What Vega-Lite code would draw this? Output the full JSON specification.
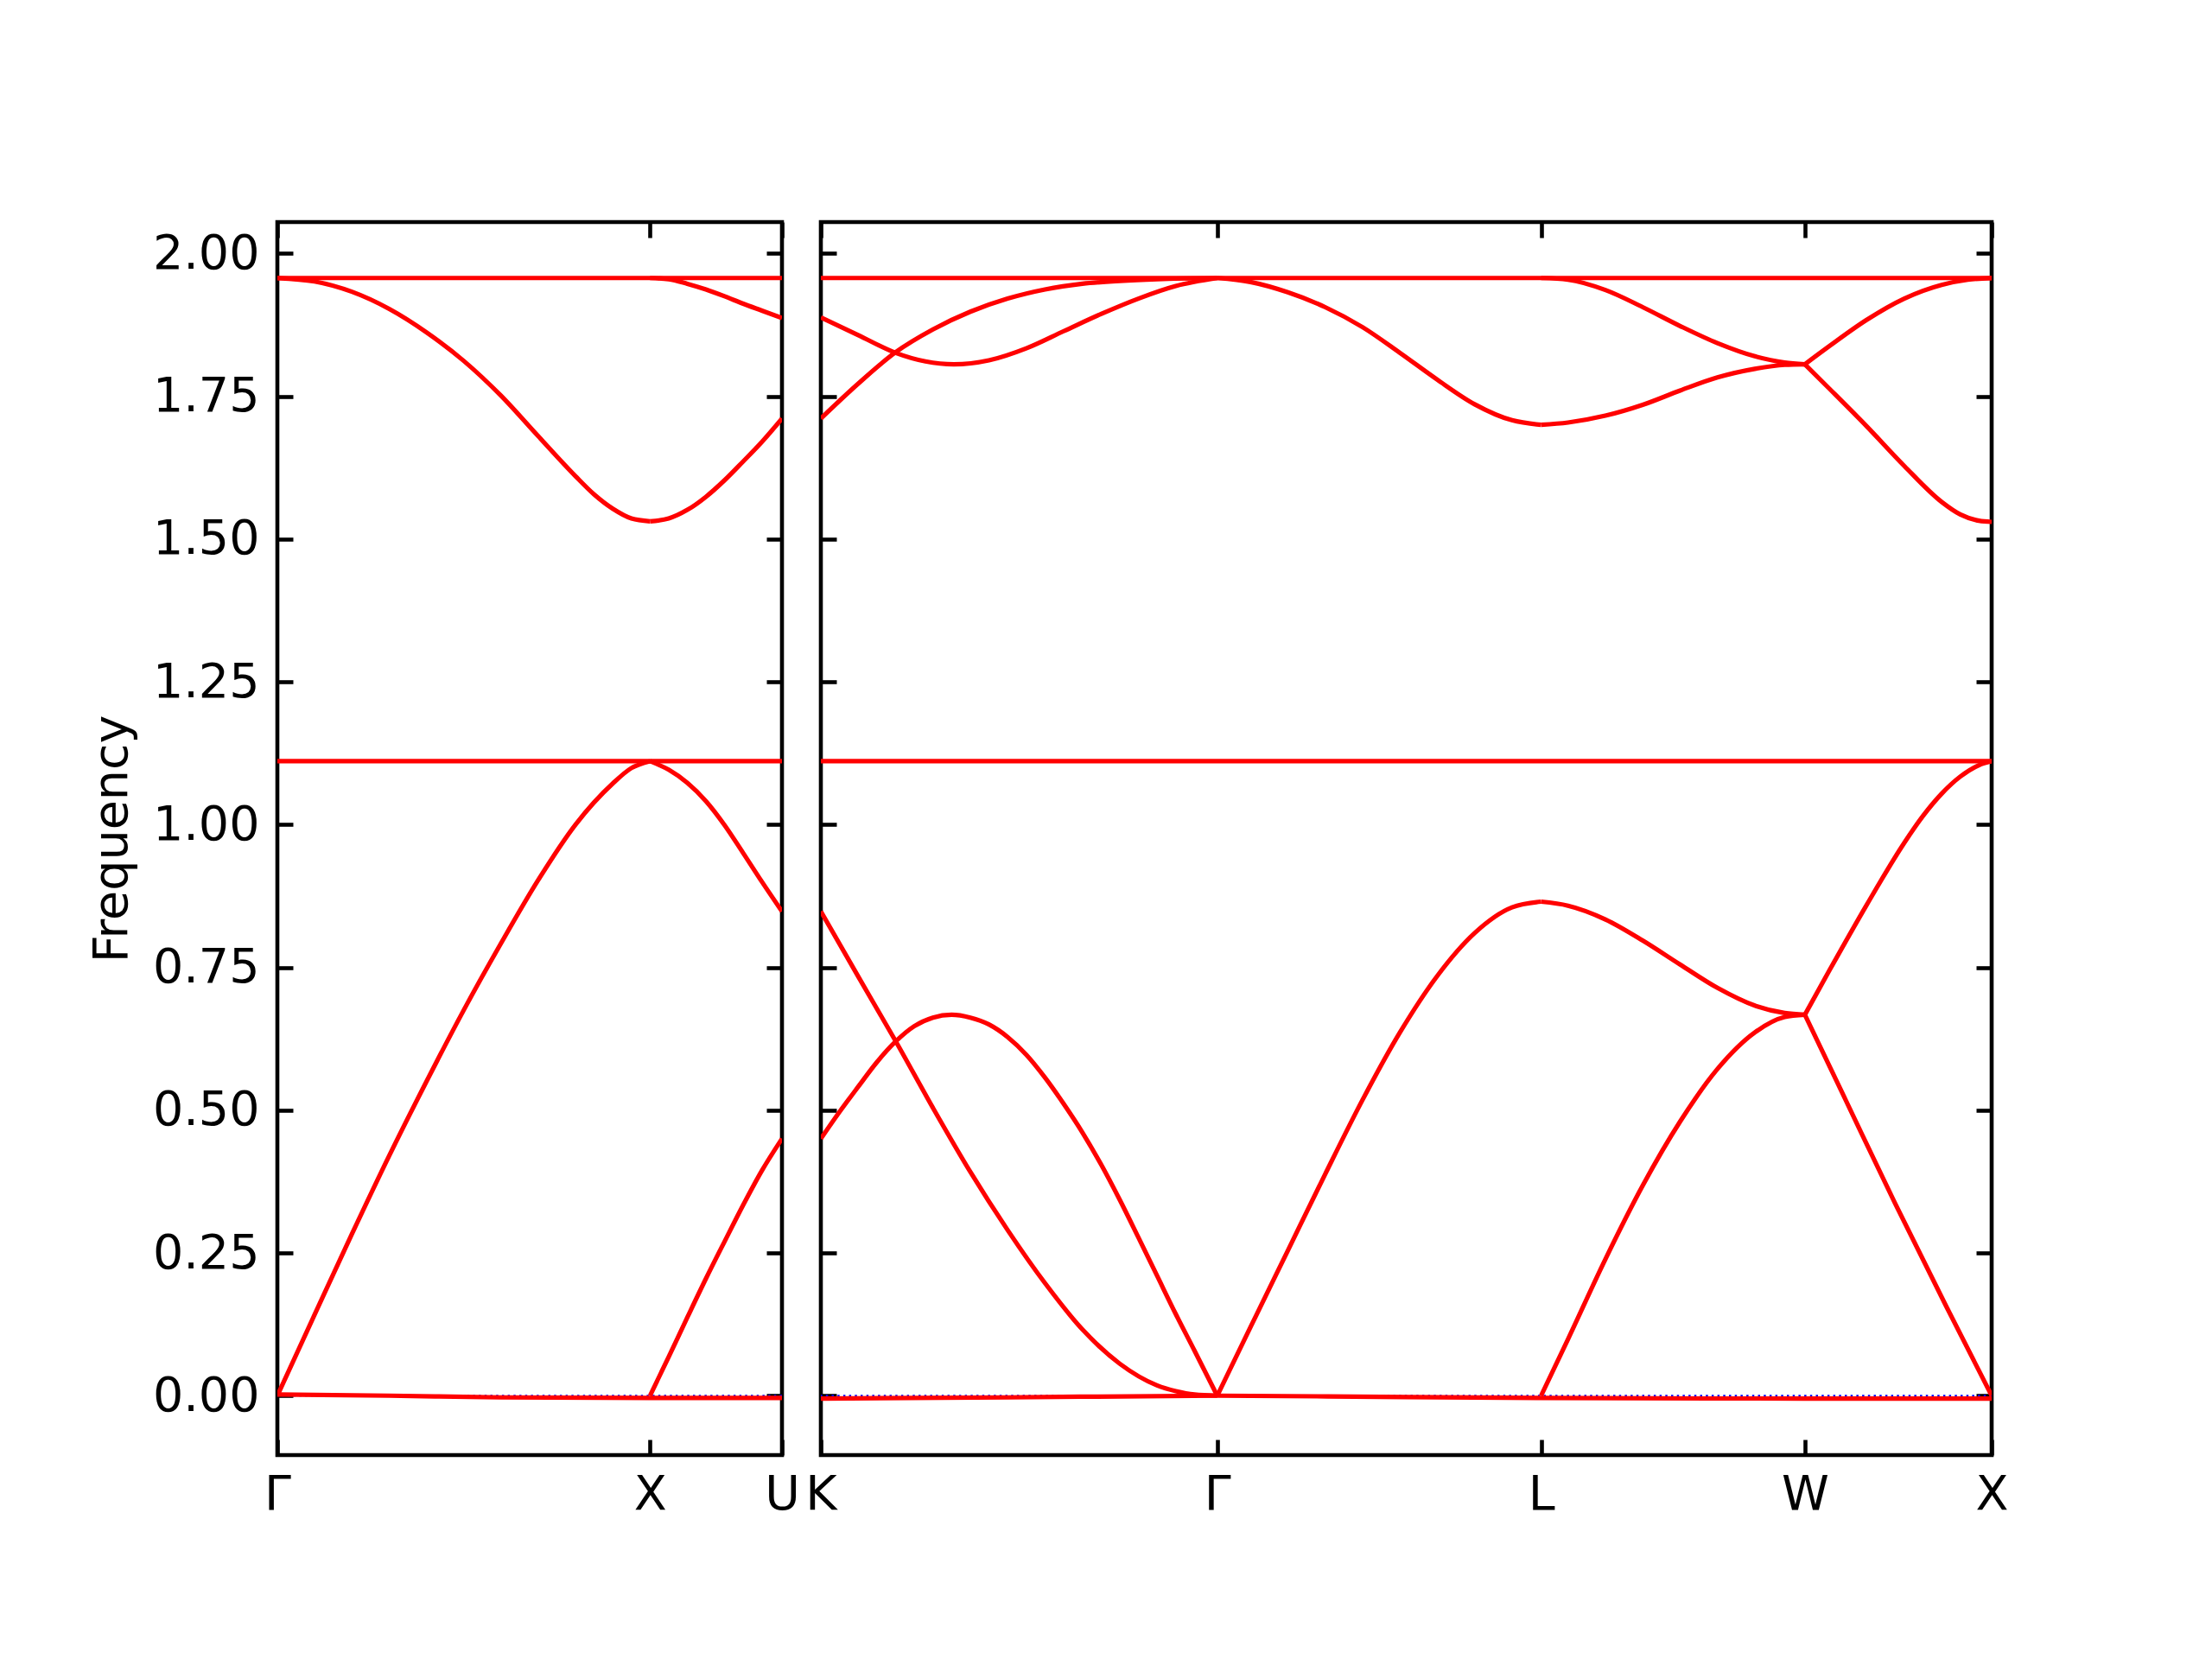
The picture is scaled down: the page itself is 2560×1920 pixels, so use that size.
{
  "$schema": "https://vega.github.io/schema/vega-lite/v6.json",
  "background": "white",
  "padding": {"left": 100, "top": 252, "right": 20, "bottom": 20},
  "bounds": "flush",
  "spacing": 45,
  "config": {
    "view": {"stroke": "black", "strokeWidth": 4.6},
    "font": "DejaVu Sans",
    "axis": {"labelFont": "DejaVu Sans", "titleFont": "DejaVu Sans", "labelColor": "black", "titleColor": "black"}
  },
  "datasets": {
    "zero": [{"f": 0}],
    "left": [
      {"s": "z", "k": 0, "f": 0.002}, {"s": "z", "k": 0.3, "f": 0.0}, {"s": "z", "k": 0.6, "f": -0.003}, {"s": "z", "k": 1.0, "f": -0.004}, {"s": "z", "k": 1.354, "f": -0.004},
      {"s": "a_GX", "k": 0, "f": 0}, {"s": "a_GX", "k": 0.1, "f": 0.142}, {"s": "a_GX", "k": 0.2, "f": 0.283}, {"s": "a_GX", "k": 0.3, "f": 0.42}, {"s": "a_GX", "k": 0.4, "f": 0.55}, {"s": "a_GX", "k": 0.5, "f": 0.675}, {"s": "a_GX", "k": 0.6, "f": 0.792}, {"s": "a_GX", "k": 0.7, "f": 0.903}, {"s": "a_GX", "k": 0.8, "f": 1.0}, {"s": "a_GX", "k": 0.9, "f": 1.072}, {"s": "a_GX", "k": 0.95, "f": 1.099}, {"s": "a_GX", "k": 1.0, "f": 1.111},
      {"s": "a_XU", "k": 1.0, "f": 1.111}, {"s": "a_XU", "k": 1.05, "f": 1.096}, {"s": "a_XU", "k": 1.1, "f": 1.073}, {"s": "a_XU", "k": 1.15, "f": 1.041}, {"s": "a_XU", "k": 1.2, "f": 0.999}, {"s": "a_XU", "k": 1.25, "f": 0.95}, {"s": "a_XU", "k": 1.3, "f": 0.9}, {"s": "a_XU", "k": 1.354, "f": 0.848},
      {"s": "b_XU", "k": 1.0, "f": 0.0}, {"s": "b_XU", "k": 1.05, "f": 0.068}, {"s": "b_XU", "k": 1.1, "f": 0.137}, {"s": "b_XU", "k": 1.15, "f": 0.205}, {"s": "b_XU", "k": 1.2, "f": 0.27}, {"s": "b_XU", "k": 1.25, "f": 0.334}, {"s": "b_XU", "k": 1.3, "f": 0.394}, {"s": "b_XU", "k": 1.354, "f": 0.45},
      {"s": "flat1", "k": 0, "f": 1.111}, {"s": "flat1", "k": 1.354, "f": 1.111},
      {"s": "c_GX", "k": 0, "f": 1.957}, {"s": "c_GX", "k": 0.1, "f": 1.951}, {"s": "c_GX", "k": 0.2, "f": 1.933}, {"s": "c_GX", "k": 0.3, "f": 1.903}, {"s": "c_GX", "k": 0.4, "f": 1.862}, {"s": "c_GX", "k": 0.5, "f": 1.812}, {"s": "c_GX", "k": 0.6, "f": 1.751}, {"s": "c_GX", "k": 0.7, "f": 1.68}, {"s": "c_GX", "k": 0.8, "f": 1.61}, {"s": "c_GX", "k": 0.85, "f": 1.578}, {"s": "c_GX", "k": 0.9, "f": 1.553}, {"s": "c_GX", "k": 0.95, "f": 1.536}, {"s": "c_GX", "k": 1.0, "f": 1.531},
      {"s": "c_XU", "k": 1.0, "f": 1.531}, {"s": "c_XU", "k": 1.05, "f": 1.536}, {"s": "c_XU", "k": 1.1, "f": 1.551}, {"s": "c_XU", "k": 1.15, "f": 1.574}, {"s": "c_XU", "k": 1.2, "f": 1.603}, {"s": "c_XU", "k": 1.25, "f": 1.636}, {"s": "c_XU", "k": 1.3, "f": 1.67}, {"s": "c_XU", "k": 1.354, "f": 1.711},
      {"s": "d_XU", "k": 1.0, "f": 1.957}, {"s": "d_XU", "k": 1.05, "f": 1.955}, {"s": "d_XU", "k": 1.1, "f": 1.947}, {"s": "d_XU", "k": 1.15, "f": 1.937}, {"s": "d_XU", "k": 1.2, "f": 1.925}, {"s": "d_XU", "k": 1.25, "f": 1.912}, {"s": "d_XU", "k": 1.3, "f": 1.9}, {"s": "d_XU", "k": 1.354, "f": 1.887},
      {"s": "flat2", "k": 0, "f": 1.957}, {"s": "flat2", "k": 1.354, "f": 1.957}
    ],
    "right": [
      {"s": "z", "k": 0, "f": -0.005}, {"s": "z", "k": 0.5, "f": -0.003}, {"s": "z", "k": 1.061, "f": 0.0}, {"s": "z", "k": 1.5, "f": -0.002}, {"s": "z", "k": 1.928, "f": -0.004}, {"s": "z", "k": 2.634, "f": -0.005}, {"s": "z", "k": 3.134, "f": -0.005},
      {"s": "r1_KG", "k": 0, "f": 0.848}, {"s": "r1_KG", "k": 0.1, "f": 0.734}, {"s": "r1_KG", "k": 0.2, "f": 0.621}, {"s": "r1_KG", "k": 0.3, "f": 0.504}, {"s": "r1_KG", "k": 0.4, "f": 0.392}, {"s": "r1_KG", "k": 0.5, "f": 0.29}, {"s": "r1_KG", "k": 0.6, "f": 0.197}, {"s": "r1_KG", "k": 0.7, "f": 0.116}, {"s": "r1_KG", "k": 0.8, "f": 0.056}, {"s": "r1_KG", "k": 0.9, "f": 0.018}, {"s": "r1_KG", "k": 0.95, "f": 0.008}, {"s": "r1_KG", "k": 1.0, "f": 0.002}, {"s": "r1_KG", "k": 1.061, "f": 0.0},
      {"s": "r2_KG", "k": 0, "f": 0.45}, {"s": "r2_KG", "k": 0.05, "f": 0.497}, {"s": "r2_KG", "k": 0.1, "f": 0.541}, {"s": "r2_KG", "k": 0.15, "f": 0.584}, {"s": "r2_KG", "k": 0.2, "f": 0.62}, {"s": "r2_KG", "k": 0.25, "f": 0.647}, {"s": "r2_KG", "k": 0.3, "f": 0.662}, {"s": "r2_KG", "k": 0.35, "f": 0.667}, {"s": "r2_KG", "k": 0.4, "f": 0.662}, {"s": "r2_KG", "k": 0.45, "f": 0.65}, {"s": "r2_KG", "k": 0.5, "f": 0.628}, {"s": "r2_KG", "k": 0.55, "f": 0.597}, {"s": "r2_KG", "k": 0.6, "f": 0.557}, {"s": "r2_KG", "k": 0.65, "f": 0.511}, {"s": "r2_KG", "k": 0.7, "f": 0.461}, {"s": "r2_KG", "k": 0.75, "f": 0.405}, {"s": "r2_KG", "k": 0.8, "f": 0.343}, {"s": "r2_KG", "k": 0.85, "f": 0.277}, {"s": "r2_KG", "k": 0.9, "f": 0.21}, {"s": "r2_KG", "k": 0.95, "f": 0.143}, {"s": "r2_KG", "k": 1.0, "f": 0.079}, {"s": "r2_KG", "k": 1.061, "f": 0.0},
      {"s": "g_GL", "k": 1.061, "f": 0.0}, {"s": "g_GL", "k": 1.15, "f": 0.12}, {"s": "g_GL", "k": 1.25, "f": 0.254}, {"s": "g_GL", "k": 1.35, "f": 0.388}, {"s": "g_GL", "k": 1.45, "f": 0.518}, {"s": "g_GL", "k": 1.55, "f": 0.636}, {"s": "g_GL", "k": 1.65, "f": 0.735}, {"s": "g_GL", "k": 1.75, "f": 0.81}, {"s": "g_GL", "k": 1.85, "f": 0.855}, {"s": "g_GL", "k": 1.928, "f": 0.865},
      {"s": "g_LW", "k": 1.928, "f": 0.865}, {"s": "g_LW", "k": 2.0, "f": 0.858}, {"s": "g_LW", "k": 2.1, "f": 0.834}, {"s": "g_LW", "k": 2.2, "f": 0.797}, {"s": "g_LW", "k": 2.3, "f": 0.755}, {"s": "g_LW", "k": 2.4, "f": 0.714}, {"s": "g_LW", "k": 2.5, "f": 0.683}, {"s": "g_LW", "k": 2.58, "f": 0.67}, {"s": "g_LW", "k": 2.634, "f": 0.667},
      {"s": "g_WX", "k": 2.634, "f": 0.667}, {"s": "g_WX", "k": 2.7, "f": 0.745}, {"s": "g_WX", "k": 2.8, "f": 0.86}, {"s": "g_WX", "k": 2.9, "f": 0.968}, {"s": "g_WX", "k": 2.95, "f": 1.015}, {"s": "g_WX", "k": 3.0, "f": 1.054}, {"s": "g_WX", "k": 3.05, "f": 1.084}, {"s": "g_WX", "k": 3.1, "f": 1.104}, {"s": "g_WX", "k": 3.134, "f": 1.111},
      {"s": "h_LW", "k": 1.928, "f": 0.0}, {"s": "h_LW", "k": 2.0, "f": 0.099}, {"s": "h_LW", "k": 2.1, "f": 0.239}, {"s": "h_LW", "k": 2.2, "f": 0.368}, {"s": "h_LW", "k": 2.3, "f": 0.48}, {"s": "h_LW", "k": 2.4, "f": 0.572}, {"s": "h_LW", "k": 2.5, "f": 0.636}, {"s": "h_LW", "k": 2.58, "f": 0.663}, {"s": "h_LW", "k": 2.634, "f": 0.667},
      {"s": "h_WX", "k": 2.634, "f": 0.667}, {"s": "h_WX", "k": 2.74, "f": 0.522}, {"s": "h_WX", "k": 2.876, "f": 0.336}, {"s": "h_WX", "k": 3.012, "f": 0.157}, {"s": "h_WX", "k": 3.134, "f": 0.0},
      {"s": "flat1", "k": 0, "f": 1.111}, {"s": "flat1", "k": 3.134, "f": 1.111},
      {"s": "u1_KG", "k": 0, "f": 1.888}, {"s": "u1_KG", "k": 0.1, "f": 1.857}, {"s": "u1_KG", "k": 0.2, "f": 1.826}, {"s": "u1_KG", "k": 0.28, "f": 1.811}, {"s": "u1_KG", "k": 0.356, "f": 1.806}, {"s": "u1_KG", "k": 0.45, "f": 1.813}, {"s": "u1_KG", "k": 0.55, "f": 1.834}, {"s": "u1_KG", "k": 0.65, "f": 1.864}, {"s": "u1_KG", "k": 0.75, "f": 1.894}, {"s": "u1_KG", "k": 0.85, "f": 1.921}, {"s": "u1_KG", "k": 0.95, "f": 1.943}, {"s": "u1_KG", "k": 1.061, "f": 1.957},
      {"s": "u2_KG", "k": 0, "f": 1.711}, {"s": "u2_KG", "k": 0.1, "f": 1.772}, {"s": "u2_KG", "k": 0.2, "f": 1.827}, {"s": "u2_KG", "k": 0.3, "f": 1.867}, {"s": "u2_KG", "k": 0.4, "f": 1.898}, {"s": "u2_KG", "k": 0.5, "f": 1.921}, {"s": "u2_KG", "k": 0.6, "f": 1.937}, {"s": "u2_KG", "k": 0.7, "f": 1.947}, {"s": "u2_KG", "k": 0.8, "f": 1.952}, {"s": "u2_KG", "k": 0.9, "f": 1.955}, {"s": "u2_KG", "k": 1.061, "f": 1.957},
      {"s": "v_GL", "k": 1.061, "f": 1.957}, {"s": "v_GL", "k": 1.15, "f": 1.95}, {"s": "v_GL", "k": 1.25, "f": 1.932}, {"s": "v_GL", "k": 1.35, "f": 1.906}, {"s": "v_GL", "k": 1.45, "f": 1.871}, {"s": "v_GL", "k": 1.55, "f": 1.826}, {"s": "v_GL", "k": 1.65, "f": 1.779}, {"s": "v_GL", "k": 1.75, "f": 1.736}, {"s": "v_GL", "k": 1.85, "f": 1.708}, {"s": "v_GL", "k": 1.928, "f": 1.7},
      {"s": "v_LW", "k": 1.928, "f": 1.7}, {"s": "v_LW", "k": 2.0, "f": 1.704}, {"s": "v_LW", "k": 2.1, "f": 1.716}, {"s": "v_LW", "k": 2.2, "f": 1.735}, {"s": "v_LW", "k": 2.3, "f": 1.76}, {"s": "v_LW", "k": 2.4, "f": 1.783}, {"s": "v_LW", "k": 2.5, "f": 1.798}, {"s": "v_LW", "k": 2.58, "f": 1.805}, {"s": "v_LW", "k": 2.634, "f": 1.806},
      {"s": "w_LW", "k": 1.928, "f": 1.957}, {"s": "w_LW", "k": 2.0, "f": 1.954}, {"s": "w_LW", "k": 2.1, "f": 1.936}, {"s": "w_LW", "k": 2.2, "f": 1.906}, {"s": "w_LW", "k": 2.3, "f": 1.873}, {"s": "w_LW", "k": 2.4, "f": 1.843}, {"s": "w_LW", "k": 2.5, "f": 1.82}, {"s": "w_LW", "k": 2.58, "f": 1.809}, {"s": "w_LW", "k": 2.634, "f": 1.806},
      {"s": "w_WX", "k": 2.634, "f": 1.806}, {"s": "w_WX", "k": 2.7, "f": 1.838}, {"s": "w_WX", "k": 2.8, "f": 1.884}, {"s": "w_WX", "k": 2.9, "f": 1.921}, {"s": "w_WX", "k": 3.0, "f": 1.945}, {"s": "w_WX", "k": 3.07, "f": 1.954}, {"s": "w_WX", "k": 3.134, "f": 1.957},
      {"s": "v_WX", "k": 2.634, "f": 1.806}, {"s": "v_WX", "k": 2.7, "f": 1.763}, {"s": "v_WX", "k": 2.8, "f": 1.697}, {"s": "v_WX", "k": 2.9, "f": 1.628}, {"s": "v_WX", "k": 3.0, "f": 1.565}, {"s": "v_WX", "k": 3.05, "f": 1.543}, {"s": "v_WX", "k": 3.1, "f": 1.532}, {"s": "v_WX", "k": 3.134, "f": 1.53},
      {"s": "flat2", "k": 0, "f": 1.957}, {"s": "flat2", "k": 3.134, "f": 1.957}
    ]
  },
  "hconcat": [
    {
      "width": 584,
      "height": 1427,
      "layer": [
        {
          "data": {"name": "zero"},
          "mark": {"type": "rule", "color": "#0000ff", "strokeWidth": 2.2, "strokeDash": [2.5, 4.2]},
          "encoding": {"y": {"field": "f", "type": "quantitative", "scale": {"domain": [-0.104, 2.055], "nice": false, "zero": false}, "axis": null}}
        },
        {
          "data": {"name": "left"},
          "mark": {"type": "line", "color": "#ff0000", "strokeWidth": 5.2, "interpolate": "monotone", "clip": true},
          "encoding": {
            "x": {"field": "k", "type": "quantitative", "scale": {"domain": [0, 1.354], "nice": false, "zero": false},
              "axis": {"orient": "bottom", "values": [0, 1, 1.354], "labelExpr": "datum.value < 0.5 ? 'Γ' : (datum.value < 1.2 ? 'X' : 'U')", "ticks": false, "domain": false, "grid": false, "title": null, "labelFontSize": 55.5, "labelPadding": 18, "labelFlush": false, "labelOverlap": false, "labelBound": false}},
            "y": {"field": "f", "type": "quantitative", "scale": {"domain": [-0.104, 2.055], "nice": false, "zero": false},
              "axis": {"orient": "left", "values": [0, 0.25, 0.5, 0.75, 1, 1.25, 1.5, 1.75, 2], "format": ".2f", "ticks": false, "domain": false, "grid": false, "title": "Frequency", "titleFontSize": 55.5, "titleFontWeight": "normal", "titlePadding": 18, "labelFontSize": 55.5, "labelPadding": 21, "labelOverlap": false, "labelFlush": false, "labelBound": false}},
            "detail": {"field": "s", "type": "nominal"}
          }
        },
        {
          "data": {"name": "zero"},
          "mark": {"type": "point", "opacity": 0},
          "encoding": {
            "x": {"datum": 0, "type": "quantitative", "scale": {"domain": [0, 1.354], "nice": false, "zero": false},
              "axis": {"orient": "bottom", "offset": -18, "tickSize": 18, "tickWidth": 4.6, "tickColor": "black", "values": [0, 1, 1.354], "labels": false, "domain": false, "grid": false, "title": null}},
            "y": {"field": "f", "type": "quantitative", "scale": {"domain": [-0.104, 2.055], "nice": false, "zero": false},
              "axis": {"orient": "left", "offset": -18, "tickSize": 18, "tickWidth": 4.6, "tickColor": "black", "values": [0, 0.25, 0.5, 0.75, 1, 1.25, 1.5, 1.75, 2], "labels": false, "domain": false, "grid": false, "title": null}}
          }
        },
        {
          "data": {"name": "zero"},
          "mark": {"type": "point", "opacity": 0},
          "encoding": {
            "x": {"datum": 0, "type": "quantitative", "scale": {"domain": [0, 1.354], "nice": false, "zero": false},
              "axis": {"orient": "top", "offset": -18, "tickSize": 18, "tickWidth": 4.6, "tickColor": "black", "values": [0, 1, 1.354], "labels": false, "domain": false, "grid": false, "title": null}},
            "y": {"field": "f", "type": "quantitative", "scale": {"domain": [-0.104, 2.055], "nice": false, "zero": false},
              "axis": {"orient": "right", "offset": -18, "tickSize": 18, "tickWidth": 4.6, "tickColor": "black", "values": [0, 0.25, 0.5, 0.75, 1, 1.25, 1.5, 1.75, 2], "labels": false, "domain": false, "grid": false, "title": null}}
          }
        }
      ],
      "resolve": {"axis": {"x": "independent", "y": "independent"}}
    },
    {
      "width": 1355,
      "height": 1427,
      "layer": [
        {
          "data": {"name": "zero"},
          "mark": {"type": "rule", "color": "#0000ff", "strokeWidth": 2.2, "strokeDash": [2.5, 4.2]},
          "encoding": {"y": {"field": "f", "type": "quantitative", "scale": {"domain": [-0.104, 2.055], "nice": false, "zero": false}, "axis": null}}
        },
        {
          "data": {"name": "right"},
          "mark": {"type": "line", "color": "#ff0000", "strokeWidth": 5.2, "interpolate": "monotone", "clip": true},
          "encoding": {
            "x": {"field": "k", "type": "quantitative", "scale": {"domain": [0, 3.134], "nice": false, "zero": false},
              "axis": {"orient": "bottom", "values": [0, 1.061, 1.928, 2.634, 3.134], "labelExpr": "datum.value < 0.5 ? 'K' : (datum.value < 1.5 ? 'Γ' : (datum.value < 2.3 ? 'L' : (datum.value < 2.9 ? 'W' : 'X')))", "ticks": false, "domain": false, "grid": false, "title": null, "labelFontSize": 55.5, "labelPadding": 18, "labelFlush": false, "labelOverlap": false, "labelBound": false}},
            "y": {"field": "f", "type": "quantitative", "scale": {"domain": [-0.104, 2.055], "nice": false, "zero": false}, "axis": null},
            "detail": {"field": "s", "type": "nominal"}
          }
        },
        {
          "data": {"name": "zero"},
          "mark": {"type": "point", "opacity": 0},
          "encoding": {
            "x": {"datum": 0, "type": "quantitative", "scale": {"domain": [0, 3.134], "nice": false, "zero": false},
              "axis": {"orient": "bottom", "offset": -18, "tickSize": 18, "tickWidth": 4.6, "tickColor": "black", "values": [0, 1.061, 1.928, 2.634, 3.134], "labels": false, "domain": false, "grid": false, "title": null}},
            "y": {"field": "f", "type": "quantitative", "scale": {"domain": [-0.104, 2.055], "nice": false, "zero": false},
              "axis": {"orient": "left", "offset": -18, "tickSize": 18, "tickWidth": 4.6, "tickColor": "black", "values": [0, 0.25, 0.5, 0.75, 1, 1.25, 1.5, 1.75, 2], "labels": false, "domain": false, "grid": false, "title": null}}
          }
        },
        {
          "data": {"name": "zero"},
          "mark": {"type": "point", "opacity": 0},
          "encoding": {
            "x": {"datum": 0, "type": "quantitative", "scale": {"domain": [0, 3.134], "nice": false, "zero": false},
              "axis": {"orient": "top", "offset": -18, "tickSize": 18, "tickWidth": 4.6, "tickColor": "black", "values": [0, 1.061, 1.928, 2.634, 3.134], "labels": false, "domain": false, "grid": false, "title": null}},
            "y": {"field": "f", "type": "quantitative", "scale": {"domain": [-0.104, 2.055], "nice": false, "zero": false},
              "axis": {"orient": "right", "offset": -18, "tickSize": 18, "tickWidth": 4.6, "tickColor": "black", "values": [0, 0.25, 0.5, 0.75, 1, 1.25, 1.5, 1.75, 2], "labels": false, "domain": false, "grid": false, "title": null}}
          }
        }
      ],
      "resolve": {"axis": {"x": "independent", "y": "independent"}}
    }
  ]
}
